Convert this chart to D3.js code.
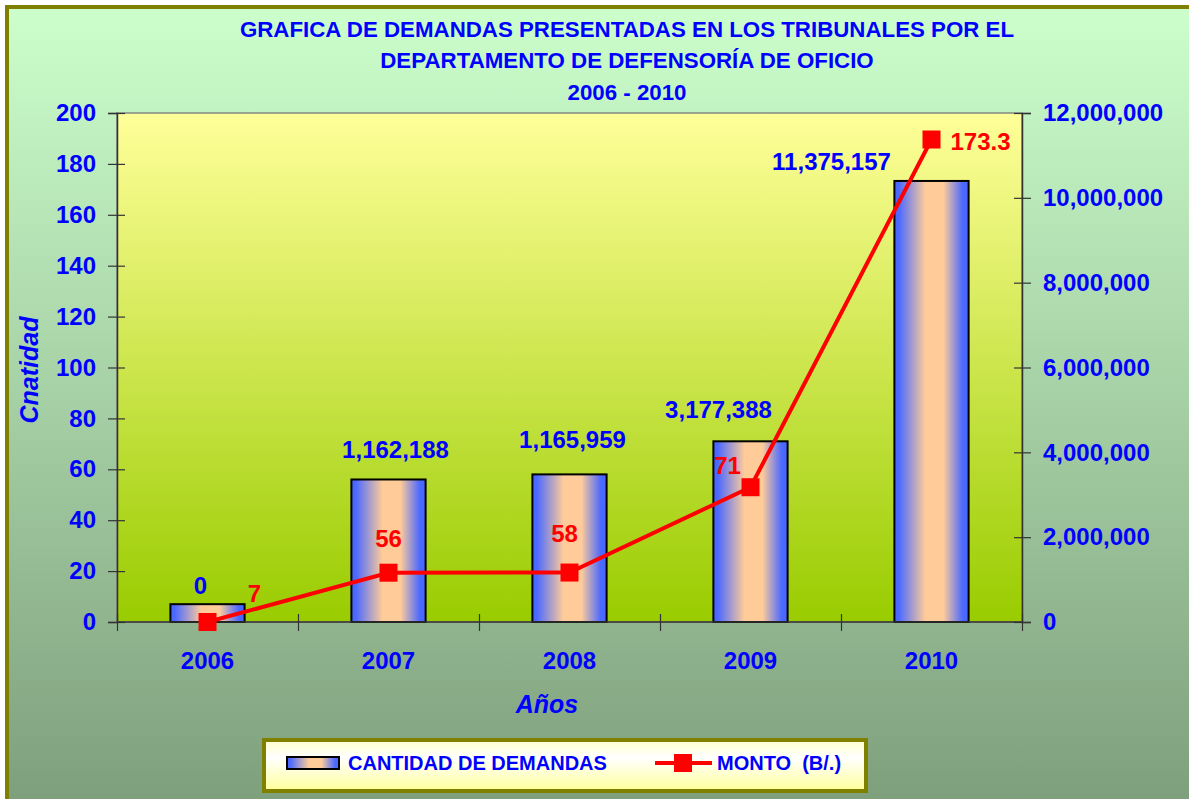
<!DOCTYPE html>
<html>
<head>
<meta charset="utf-8">
<script src="https://cdn.jsdelivr.net/npm/d3@7"></script>
<style>
  body { margin: 0; background: #fff; }
  text { font-family: "Liberation Sans", Arial, sans-serif; font-weight: bold; }
</style>
</head>
<body>
<div id="chart"></div>
<script>
// data
var years = ["2006", "2007", "2008", "2009", "2010"];
var cantidad = [7, 56, 58, 71, 173.3];
var monto = [0, 1162188, 1165959, 3177388, 11375157];
var leftTicks = [0, 20, 40, 60, 80, 100, 120, 140, 160, 180, 200];
var rightTicks = [0, 2000000, 4000000, 6000000, 8000000, 10000000, 12000000];
var titleLines = ["GRAFICA DE DEMANDAS PRESENTADAS EN LOS TRIBUNALES POR EL",
                  "DEPARTAMENTO DE DEFENSORÍA DE OFICIO",
                  "2006 - 2010"];

// label nudges (the labels were moved by hand in the original)
var blueNudge = [[-7, -10], [7, -21], [3, -26], [-32, -23], [-100, -11]];
var redNudge = [[47, -20], [0, -26], [-5, -31], [-23, -13], [49, 10]];

var W = 1189, H = 799;
var plot = { left: 117, right: 1022, top: 113, bottom: 622 };

var svg = d3.select("#chart").append("svg").attr("width", W).attr("height", H);
var defs = svg.append("defs");

var bg = defs.append("linearGradient").attr("id", "bgGrad").attr("x1", 0).attr("y1", 0).attr("x2", 0).attr("y2", 1);
bg.append("stop").attr("offset", "0%").attr("stop-color", "#ccffcc");
bg.append("stop").attr("offset", "100%").attr("stop-color", "#7c9c7a");

var pg = defs.append("linearGradient").attr("id", "plotGrad").attr("x1", 0).attr("y1", 0).attr("x2", 0).attr("y2", 1);
pg.append("stop").attr("offset", "0%").attr("stop-color", "#ffff99");
pg.append("stop").attr("offset", "100%").attr("stop-color", "#99cc00");

var barG = defs.append("linearGradient").attr("id", "barGrad").attr("x1", 0).attr("y1", 0).attr("x2", 1).attr("y2", 0);
barG.append("stop").attr("offset", "0%").attr("stop-color", "#4466ff");
barG.append("stop").attr("offset", "6%").attr("stop-color", "#4d6aff");
barG.append("stop").attr("offset", "42%").attr("stop-color", "#ffcc99");
barG.append("stop").attr("offset", "66%").attr("stop-color", "#ffcc99");
barG.append("stop").attr("offset", "92%").attr("stop-color", "#4d6aff");
barG.append("stop").attr("offset", "100%").attr("stop-color", "#4466ff");

var lg = defs.append("linearGradient").attr("id", "legGrad").attr("x1", 0).attr("y1", 0).attr("x2", 0).attr("y2", 1);
lg.append("stop").attr("offset", "0%").attr("stop-color", "#ffffcc");
lg.append("stop").attr("offset", "35%").attr("stop-color", "#ffffff");
lg.append("stop").attr("offset", "100%").attr("stop-color", "#ffff99");

// outer frame (only left and top border visible)
svg.append("rect").attr("x", 7).attr("y", 7).attr("width", W + 20).attr("height", H + 20)
    .attr("fill", "url(#bgGrad)").attr("stroke", "#808000").attr("stroke-width", 4);

// title
svg.append("g").selectAll("text").data(titleLines).enter().append("text")
    .attr("x", 627).attr("y", function (d, i) { return [37, 68, 100][i]; })
    .attr("text-anchor", "middle").attr("fill", "#0000ff").style("font-size", "22.3px")
    .text(function (d) { return d; });

// scales
var xCat = d3.scaleBand().domain(years).range([plot.left, plot.right]).padding(0);
var xEdge = d3.scaleLinear().domain([0, years.length]).range([plot.left, plot.right]);
var yL = d3.scaleLinear().domain([0, 200]).range([plot.bottom, plot.top]);
var yR = d3.scaleLinear().domain([0, 12000000]).range([plot.bottom, plot.top]);
var barW = xCat.bandwidth() * 0.41;
function cx(d) { return xCat(d) + xCat.bandwidth() / 2; }

// plot area
svg.append("rect").attr("x", plot.left).attr("y", plot.top)
    .attr("width", plot.right - plot.left).attr("height", plot.bottom - plot.top)
    .attr("fill", "url(#plotGrad)").attr("stroke", "#888").attr("stroke-width", 1.5);

// bars
svg.append("g").selectAll("rect").data(cantidad).enter().append("rect")
    .attr("x", function (d, i) { return cx(years[i]) - barW / 2; })
    .attr("y", function (d) { return yL(d); })
    .attr("width", barW)
    .attr("height", function (d) { return yL(0) - yL(d); })
    .attr("fill", "url(#barGrad)").attr("stroke", "#000").attr("stroke-width", 2);

// axes
var axL = svg.append("g").attr("transform", "translate(" + plot.left + ",0)")
    .call(d3.axisLeft(yL).tickValues(leftTicks).tickSize(9).tickPadding(12));
axL.selectAll(".tick line").attr("x1", -9).attr("x2", 8);

var axR = svg.append("g").attr("transform", "translate(" + plot.right + ",0)")
    .call(d3.axisRight(yR).tickValues(rightTicks).tickSize(9).tickPadding(12).tickFormat(d3.format(",")));
axR.selectAll(".tick line").attr("x1", -8).attr("x2", 9);

var axB = svg.append("g").attr("transform", "translate(0," + plot.bottom + ")")
    .call(d3.axisBottom(xEdge).tickValues(d3.range(0, years.length + 1)).tickSize(9).tickFormat(""));
axB.selectAll(".tick line").attr("y1", -8).attr("y2", 9);

[axL, axR, axB].forEach(function (a) {
    a.select(".domain").attr("stroke", "#333").attr("stroke-width", 1.5);
    a.selectAll(".tick line").attr("stroke", "#333").attr("stroke-width", 1.2);
    a.selectAll(".tick text").attr("fill", "#0000ff").style("font-size", "24px")
        .style("font-family", "'Liberation Sans', Arial, sans-serif").style("font-weight", "bold");
});
axB.select(".domain").attr("d", "M" + plot.left + ",0H" + plot.right);

// category labels
svg.append("g").selectAll("text").data(years).enter().append("text")
    .attr("x", function (d) { return cx(d); }).attr("y", 669)
    .attr("text-anchor", "middle").attr("fill", "#0000ff").style("font-size", "24px")
    .text(function (d) { return d; });

// axis titles
svg.append("text").attr("transform", "translate(38,370) rotate(-90)")
    .attr("text-anchor", "middle").attr("fill", "#0000ff")
    .style("font-size", "25px").style("font-style", "italic").text("Cnatidad");
svg.append("text").attr("x", 547).attr("y", 713)
    .attr("text-anchor", "middle").attr("fill", "#0000ff")
    .style("font-size", "25px").style("font-style", "italic").text("Años");

// line series
var line = d3.line()
    .x(function (d, i) { return cx(years[i]); })
    .y(function (d) { return yR(d); });
svg.append("path").datum(monto).attr("d", line)
    .attr("fill", "none").attr("stroke", "#ff0000").attr("stroke-width", 4);
svg.append("g").selectAll("rect").data(monto).enter().append("rect")
    .attr("x", function (d, i) { return cx(years[i]) - 9; })
    .attr("y", function (d) { return yR(d) - 9; })
    .attr("width", 18).attr("height", 18).attr("fill", "#ff0000");

// blue labels above bars (show monto)
svg.append("g").selectAll("text").data(monto).enter().append("text")
    .attr("x", function (d, i) { return cx(years[i]) + blueNudge[i][0]; })
    .attr("y", function (d, i) { return yL(cantidad[i]) + blueNudge[i][1]; })
    .attr("text-anchor", "middle").attr("fill", "#0000ff").style("font-size", "24px")
    .text(function (d) { return d3.format(",")(d); });

// red labels near markers (show cantidad)
svg.append("g").selectAll("text").data(cantidad).enter().append("text")
    .attr("x", function (d, i) { return cx(years[i]) + redNudge[i][0]; })
    .attr("y", function (d, i) { return yR(monto[i]) + redNudge[i][1]; })
    .attr("text-anchor", "middle").attr("fill", "#ff0000").style("font-size", "24px")
    .text(function (d) { return d; });

// legend
var leg = svg.append("g");
leg.append("rect").attr("x", 264).attr("y", 740).attr("width", 602).attr("height", 51)
    .attr("fill", "url(#legGrad)").attr("stroke", "#808000").attr("stroke-width", 4);
leg.append("rect").attr("x", 287).attr("y", 757).attr("width", 52).attr("height", 12)
    .attr("fill", "url(#barGrad)").attr("stroke", "#000").attr("stroke-width", 2);
leg.append("text").attr("x", 348).attr("y", 770).attr("fill", "#0000ff").style("font-size", "20px")
    .text("CANTIDAD DE DEMANDAS");
leg.append("line").attr("x1", 655).attr("x2", 712).attr("y1", 763).attr("y2", 763)
    .attr("stroke", "#ff0000").attr("stroke-width", 4);
leg.append("rect").attr("x", 674).attr("y", 754).attr("width", 18).attr("height", 18).attr("fill", "#ff0000");
leg.append("text").attr("x", 717).attr("y", 770).attr("fill", "#0000ff").style("font-size", "20px")
    .text("MONTO  (B/.)").attr("xml:space", "preserve").style("white-space", "pre");
</script>
</body>
</html>
